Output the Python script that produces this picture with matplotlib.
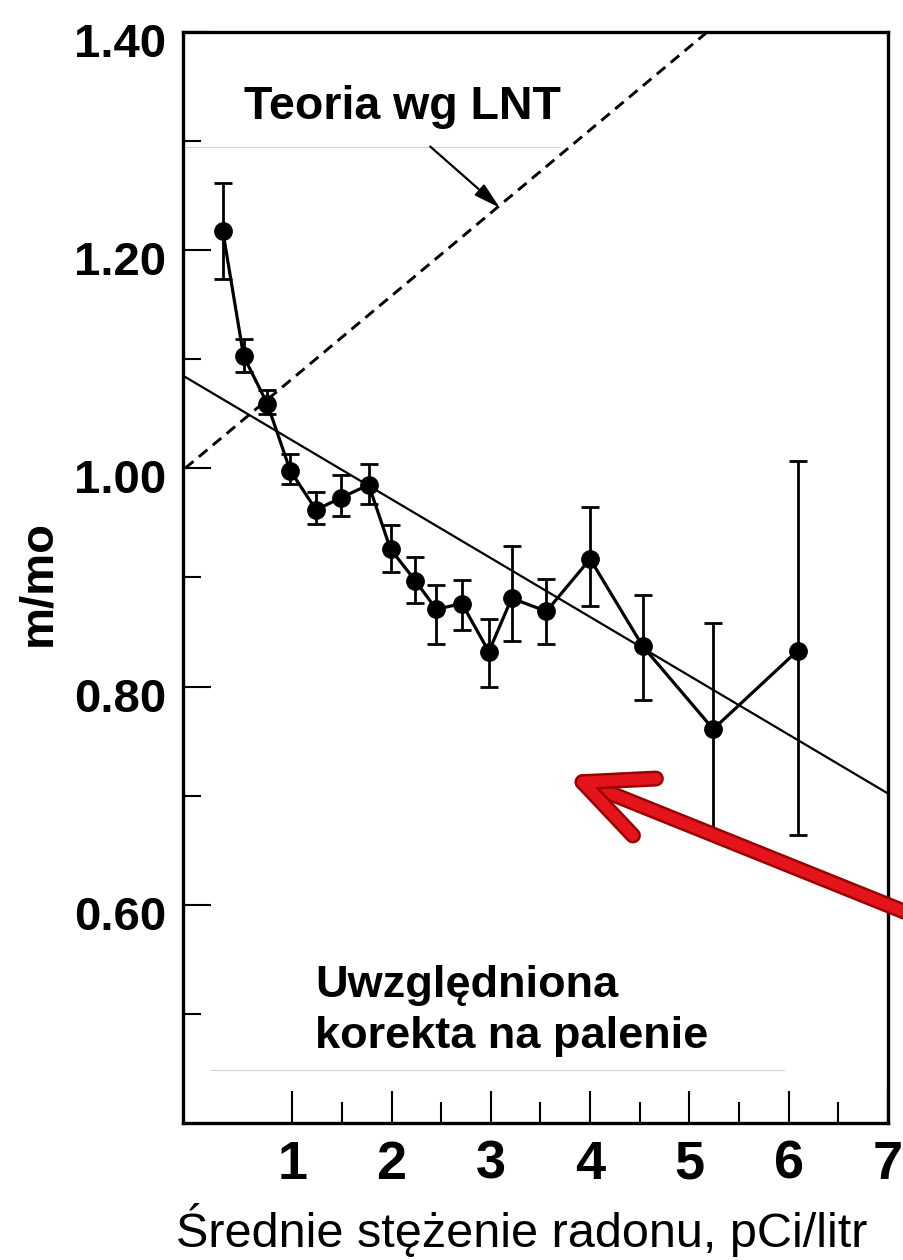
import matplotlib
matplotlib.use("Agg")
import matplotlib.pyplot as plt
import matplotlib.patheffects as pe
from matplotlib.patches import ArrowStyle
from matplotlib.transforms import ScaledTranslation

# mean radon level vs. lung cancer mortality ratio
radon = [0.30, 0.51, 0.75, 0.98, 1.24, 1.49, 1.77, 1.99, 2.24, 2.45,
         2.71, 2.98, 3.21, 3.56, 4.00, 4.53, 5.24, 6.09]
ratio = [1.218, 1.103, 1.059, 0.998, 0.962, 0.973, 0.985, 0.926, 0.897, 0.871,
         0.876, 0.832, 0.881, 0.869, 0.917, 0.837, 0.761, 0.833]
ratio_hi = [1.262, 1.119, 1.072, 1.013, 0.978, 0.994, 1.004, 0.948, 0.919, 0.893,
            0.898, 0.862, 0.929, 0.899, 0.965, 0.884, 0.858, 1.007]
ratio_lo = [1.174, 1.088, 1.050, 0.986, 0.949, 0.956, 0.967, 0.905, 0.877, 0.839,
            0.852, 0.800, 0.842, 0.839, 0.874, 0.788, 0.664, 0.664]

# straight lines: least-squares fit and LNT theory (end points)
fit_x = [-0.1, 7.0]
fit_y = [1.085, 0.702]
lnt_x = [-0.08, 5.18]
lnt_y = [1.000, 1.400]

x_ticks = [1, 2, 3, 4, 5, 6, 7]
x_tick_labels = ["1", "2", "3", "4", "5", "6", "7"]
x_minor = [1.5, 2.5, 3.5, 4.5, 5.5, 6.5]
y_ticks = [0.6, 0.8, 1.0, 1.2, 1.4]
y_tick_labels = ["0.60", "0.80", "1.00", "1.20", "1.40"]
y_minor = [0.5, 0.7, 0.9, 1.1, 1.3]

plt.rcParams["font.family"] = ["Liberation Sans", "DejaVu Sans"]

W, H = 904, 1260
fig = plt.figure(figsize=(W / 100, H / 100), dpi=100)
ax = fig.add_axes([183 / W, 1 - 1123 / H, (888 - 183) / W, (1123 - 32) / H])

ax.set_xlim(-0.1, 7.0)
ax.set_ylim(0.40, 1.40)

# faint edges of pasted labels in the scan
ax.plot([-0.1, 3.7], [1.295, 1.295], color="#d4d4d4", lw=0.8)
ax.plot([0.18, 5.95], [0.449, 0.449], color="#d4d4d4", lw=0.8)

ax.plot(lnt_x, lnt_y, color="black", lw=2.1, linestyle=(0, (3.8, 2.4)))
ax.plot(fit_x, fit_y, color="black", lw=1.6)

yerr = [[r - lo for r, lo in zip(ratio, ratio_lo)],
        [hi - r for r, hi in zip(ratio, ratio_hi)]]
ax.errorbar(radon, ratio, yerr=yerr, fmt="-o", color="black", ms=12.5,
            lw=2.3, elinewidth=2.0, capsize=6.5, capthick=2.0)

for side in ["left", "right", "top", "bottom"]:
    ax.spines[side].set_linewidth(2.4)

ax.set_xticks(x_ticks, labels=x_tick_labels, fontweight="bold")
ax.set_xticks(x_minor, minor=True)
ax.set_yticks(y_ticks, labels=y_tick_labels, fontweight="bold")
ax.set_yticks(y_minor, minor=True)
ax.tick_params(axis="x", which="major", direction="in", length=23, width=1.5,
               labelsize=39, pad=12)
ax.tick_params(axis="x", which="minor", direction="in", length=15, width=1.5)
ax.tick_params(axis="y", which="major", direction="in", length=20, width=1.5,
               labelsize=34, pad=12)
ax.tick_params(axis="y", which="minor", direction="in", length=13, width=1.5)

shift = ScaledTranslation(0, -0.08, fig.dpi_scale_trans)
for lbl in ax.get_yticklabels():
    lbl.set_transform(lbl.get_transform() + shift)

fig.text(38 / W, 1 - 583 / H, "m/mo", rotation=90, ha="center", va="center",
         fontsize=34, fontweight="bold")
fig.text(522 / W, 1 - 1247 / H, "Średnie stężenie radonu, pCi/litr",
         ha="center", va="baseline", fontsize=35)

ax.text(0.51, 1.320, "Teoria wg LNT", fontsize=33.5, fontweight="bold",
        va="baseline", ha="left")
ax.annotate("", xy=(3.09, 1.239), xytext=(2.39, 1.295),
            arrowprops=dict(arrowstyle=ArrowStyle("-|>", head_length=0.8,
                                                  head_width=0.22),
                            mutation_scale=20, lw=1.6, color="black",
                            shrinkA=0, shrinkB=0))

# multi-line text: baseline alignment refers to the last line
ax.text(1.23, 0.469, "Uwzględniona\nkorekta na palenie", fontsize=32.5,
        fontweight="bold", va="baseline", ha="left", linespacing=1.3)

# red pointer added over the scan
ax.annotate("", xy=(3.80, 0.717), xytext=(7.43, 0.584),
            annotation_clip=False,
            arrowprops=dict(arrowstyle=ArrowStyle("->", head_length=1.0,
                                                  head_width=0.46),
                            mutation_scale=48, lw=8, color="#e3141c",
                            shrinkA=0, shrinkB=0, capstyle="round",
                            joinstyle="round",
                            path_effects=[pe.Stroke(linewidth=11.5,
                                                    foreground="#990000"),
                                          pe.Normal()]))

fig.savefig("out.png", dpi=100)
